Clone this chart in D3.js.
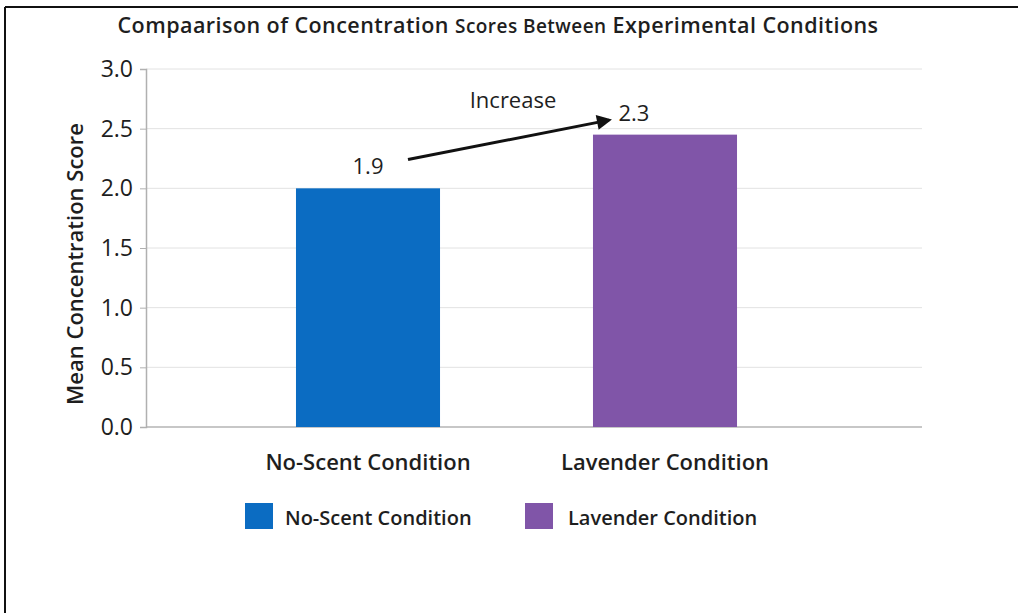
<!DOCTYPE html>
<html>
<head>
<meta charset="utf-8">
<title>Concentration Scores</title>
<script src="https://d3js.org/d3.v7.min.js"></script>
<style>
  body { margin: 0; background: #fff; }
  svg text { font-family: 'Open Sans', 'Noto Sans', sans-serif; fill: #1e1e1e; }
</style>
</head>
<body>
<div id="chart"></div>
<script>
var categories = ["No-Scent Condition", "Lavender Condition"];
var meanScores = [2.0, 2.45];
var valueLabels = ["1.9", "2.3"];
var barColors = ["#0b6cc2", "#8055a8"];
var yTicks = [0, 0.5, 1.0, 1.5, 2.0, 2.5, 3.0];

var width = 1018, height = 613;

var svg = d3.select('#chart')
  .append('svg')
  .attr('width', width)
  .attr('height', height);

// frame lines (top + left only, like the screenshot)
svg.append('line').attr('x1', 5).attr('x2', width).attr('y1', 7).attr('y2', 7)
  .style('stroke', '#111').style('stroke-width', 2);
svg.append('line').attr('x1', 5).attr('x2', 5).attr('y1', 7).attr('y2', height)
  .style('stroke', '#111').style('stroke-width', 2);

var x = d3.scaleBand()
  .domain(categories)
  .range([146, 887])
  .paddingInner(0.515)
  .paddingOuter(0.505);

var y = d3.scaleLinear()
  .domain([0, 3])
  .range([427, 69]);

// gridlines
svg.append('g')
  .selectAll('line')
  .data(yTicks)
  .enter()
  .append('line')
  .attr('x1', 146)
  .attr('x2', 922)
  .attr('y1', function(d) { return y(d); })
  .attr('y2', function(d) { return y(d); })
  .style('stroke', function(d) { return d === 0 ? '#b5b5b5' : '#e2e2e2'; })
  .style('stroke-width', function(d) { return d === 0 ? 1.5 : 1; });

var yAxis = svg.append('g')
  .attr('transform', 'translate(146,0)')
  .call(d3.axisLeft(y).tickValues(yTicks).tickFormat(d3.format('.1f')).tickSize(6).tickPadding(7));
yAxis.select('.domain').style('stroke', '#b0b0b0').style('stroke-width', 1.5);
yAxis.selectAll('.tick line').style('stroke', '#b0b0b0');
yAxis.selectAll('.tick text').style('font-size', '23px').style('fill', '#1e1e1e')
  .style('font-weight', 500)
  .style('font-family', "'Open Sans', sans-serif");

// y label
svg.append('text')
  .attr('transform', 'translate(83,264) rotate(-90)')
  .attr('text-anchor', 'middle')
  .style('font-size', '22px')
  .style('font-weight', 600)
  .text('Mean Concentration Score');

// bars
svg.selectAll('.bar')
  .data(meanScores)
  .enter()
  .append('rect')
  .attr('class', 'bar')
  .attr('x', function(d, i) { return x(categories[i]); })
  .attr('width', x.bandwidth())
  .attr('y', function(d) { return y(d); })
  .attr('height', function(d) { return y(0) - y(d); })
  .attr('fill', function(d, i) { return barColors[i]; });

// value labels
svg.selectAll('.val')
  .data(meanScores)
  .enter()
  .append('text')
  .attr('class', 'val')
  .attr('x', function(d, i) { return x(categories[i]) + x.bandwidth() / 2 + (i === 1 ? -31 : 0); })
  .attr('y', function(d, i) { return y(d) - (i === 1 ? 14 : 14); })
  .attr('text-anchor', 'middle')
  .style('font-size', '22px')
  .style('font-weight', 500)
  .text(function(d, i) { return valueLabels[i]; });

// category labels
svg.selectAll('.cat')
  .data(categories)
  .enter()
  .append('text')
  .attr('class', 'cat')
  .attr('x', function(d) { return x(d) + x.bandwidth() / 2; })
  .attr('y', 470)
  .attr('text-anchor', 'middle')
  .style('font-size', '22px')
  .style('font-weight', 600)
  .text(function(d) { return d; });

// increase arrow
svg.append('defs').append('marker')
  .attr('id', 'arrowhead')
  .attr('viewBox', '0 0 10 10')
  .attr('refX', 8).attr('refY', 5)
  .attr('markerWidth', 6).attr('markerHeight', 5)
  .attr('orient', 'auto')
  .append('path')
  .attr('d', 'M0,0 L10,5 L0,10 z')
  .attr('fill', '#111');

var fromX = x(categories[0]) + x.bandwidth() / 2 + 40;
var toX = x(categories[1]) + 20;
svg.append('line')
  .attr('x1', fromX).attr('y1', y(2.25) + 1)
  .attr('x2', toX - 4).attr('y2', y(2.58) + 1)
  .attr('stroke', '#111')
  .attr('stroke-width', 3)
  .attr('marker-end', 'url(#arrowhead)');

svg.append('text')
  .attr('x', 513)
  .attr('y', 108)
  .attr('text-anchor', 'middle')
  .style('font-size', '22px')
  .style('font-weight', 500)
  .text('Increase');

// title
var title = svg.append('text')
  .attr('x', 498)
  .attr('y', 33)
  .attr('text-anchor', 'middle')
  .style('font-size', '21.5px')
  .style('font-weight', 600)
  .style('letter-spacing', '0.45px');
title.append('tspan').text('Compaarison of Concentration ');
title.append('tspan').style('font-size', '19px').text('Scores Between');
title.append('tspan').text(' Experimental Conditions');

// legend
var legend = svg.selectAll('.legend')
  .data(categories)
  .enter()
  .append('g')
  .attr('class', 'legend')
  .attr('transform', function(d, i) { return 'translate(' + (245 + i * 280) + ',503)'; });

legend.append('rect')
  .attr('width', 28)
  .attr('height', 26)
  .attr('fill', function(d, i) { return barColors[i]; });

legend.append('text')
  .attr('x', function(d, i) { return i === 0 ? 40 : 43; })
  .attr('y', 22)
  .style('font-size', '20px')
  .style('font-weight', 600)
  .text(function(d) { return d; });
</script>
</body>
</html>
